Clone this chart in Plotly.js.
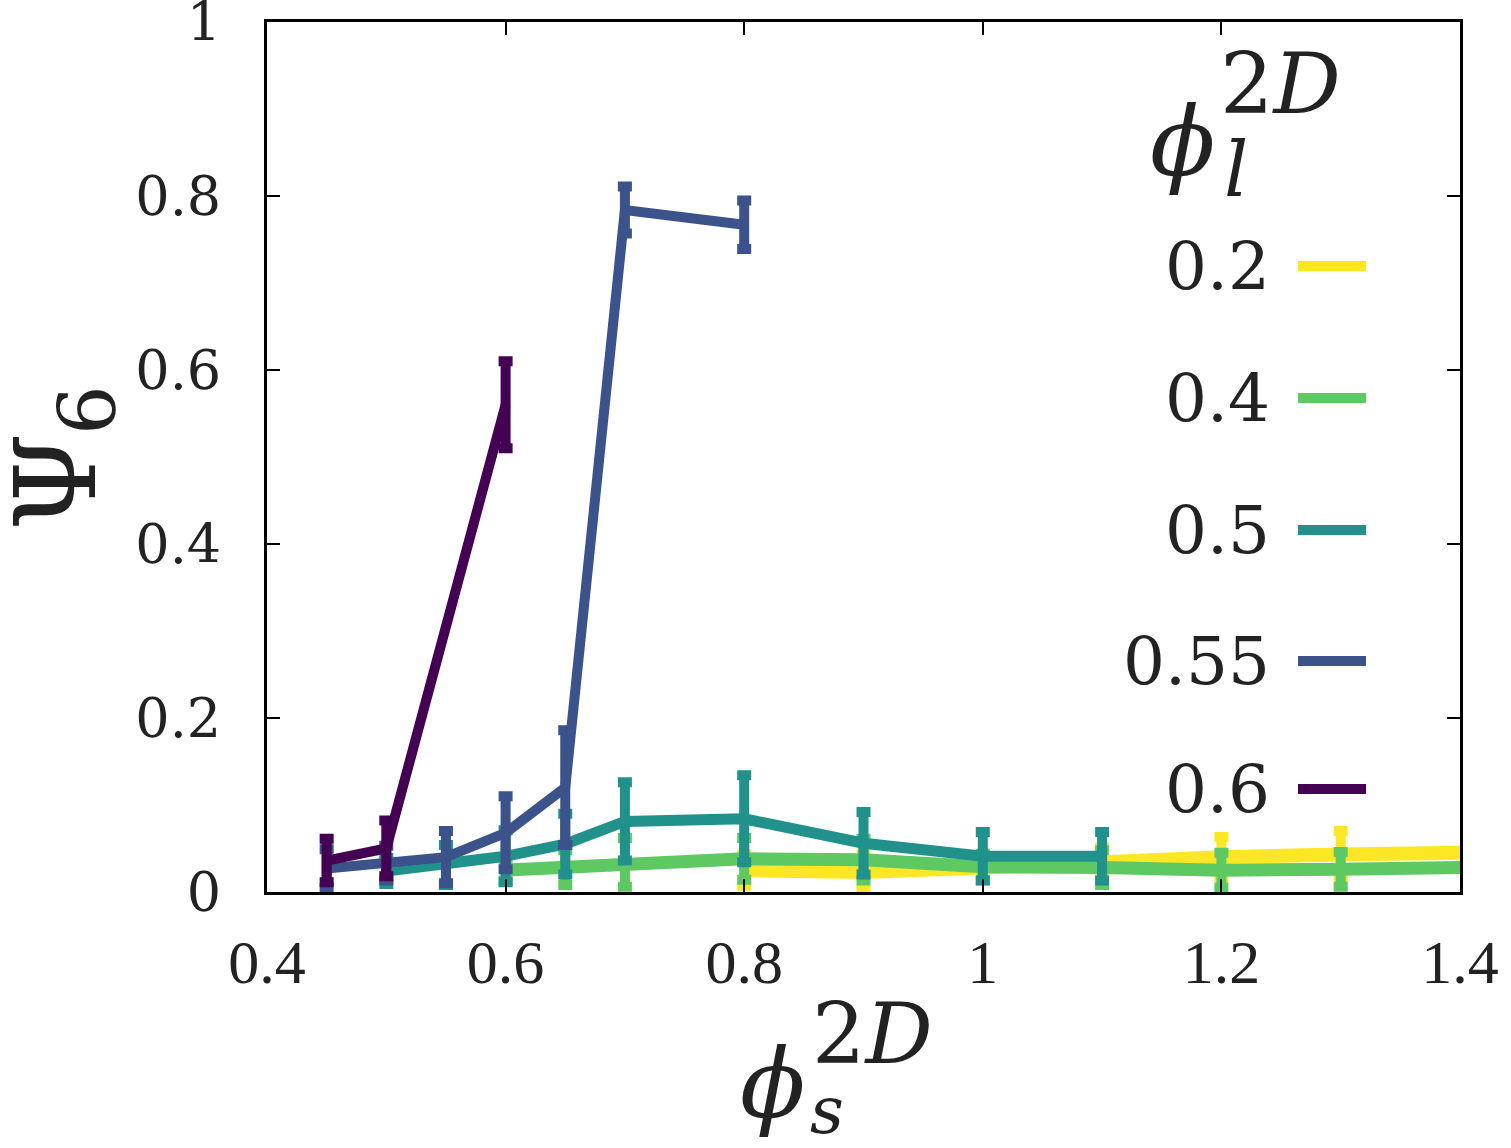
<!DOCTYPE html>
<html>
<head>
<meta charset="utf-8">
<script src="https://cdn.plot.ly/plotly-3.0.1.min.js"></script>
<style>html,body{margin:0;padding:0;background:#fff;}#plot{width:1511px;height:1148px;}</style>
</head>
<body>
<div id="plot"></div>
<script>
// ---- data ----
const seriesLabels = ['0.2', '0.4', '0.5', '0.55', '0.6'];
const seriesColors = ['#fde725', '#5ec962', '#21918c', '#3b528b', '#440154'];
const seriesWidths = [14, 13, 11, 10, 10];

const x02 = [0.8, 0.9, 1.0, 1.1, 1.2, 1.3, 1.5];
const y02 = [0.025, 0.023, 0.028, 0.036, 0.040, 0.043, 0.047];
const e02 = [0.018, 0.020, 0.015, 0.015, 0.023, 0.027, 0.020];

const x04 = [0.6, 0.65, 0.7, 0.8, 0.9, 1.0, 1.1, 1.2, 1.3, 1.5];
const y04 = [0.025, 0.028, 0.034, 0.038, 0.037, 0.029, 0.028, 0.025, 0.026, 0.030];
const e04 = [0.012, 0.020, 0.028, 0.024, 0.024, 0.015, 0.020, 0.020, 0.020, 0.020];

const x05 = [0.5, 0.55, 0.6, 0.65, 0.7, 0.8, 0.9, 1.0, 1.1];
const y05 = [0.024, 0.031, 0.041, 0.055, 0.081, 0.084, 0.056, 0.041, 0.041];
const e05 = [0.015, 0.023, 0.030, 0.035, 0.045, 0.050, 0.036, 0.028, 0.028];

const x055 = [0.45, 0.5, 0.55, 0.6, 0.65, 0.7, 0.8];
const y055 = [0.027, 0.033, 0.040, 0.068, 0.120, 0.784, 0.767];
const e055 = [0.022, 0.020, 0.030, 0.042, 0.066, 0.027, 0.028];

const x06 = [0.45, 0.5, 0.6];
const y06 = [0.036, 0.050, 0.560];
const e06 = [0.025, 0.032, 0.050];

const xTicks = [0.4, 0.6, 0.8, 1.0, 1.2, 1.4];
const xTickText = ['0.4', '0.6', '0.8', '1', '1.2', '1.4'];
const yTicks = [0, 0.2, 0.4, 0.6, 0.8, 1];
const yTickText = ['0', '0.2', '0.4', '0.6', '0.8', '1'];

// ---- build ----
const xs = [x02, x04, x05, x055, x06];
const ys = [y02, y04, y05, y055, y06];
const es = [e02, e04, e05, e055, e06];

const traces = seriesLabels.map((lab, i) => ({
  type: 'scatter',
  mode: 'lines',
  name: lab,
  x: xs[i],
  y: ys[i],
  line: {color: seriesColors[i], width: seriesWidths[i]},
  error_y: {type: 'data', array: es[i], visible: true, color: seriesColors[i], thickness: 10, width: 7},
  showlegend: false
}));

// plot area in px
const L = 267, R = 1460, T = 22, B = 892;
const W = 1511, H = 1148;
const px2x = p => (p - L) / (R - L);
const py2y = p => (B - p) / (B - T);

const annotations = [];
const shapes = [];
const txt = '#222';

// legend (labels left of line samples)
const legY = [266, 398, 530, 661, 789];
seriesLabels.forEach((lab, i) => {
  annotations.push({
    xref: 'paper', yref: 'paper', x: px2x(1272), y: py2y(legY[i]),
    xanchor: 'right', yanchor: 'middle', showarrow: false,
    text: lab, font: {family: 'DejaVu Serif', size: 66, color: txt}
  });
  shapes.push({
    type: 'line', xref: 'paper', yref: 'paper',
    x0: px2x(1298), x1: px2x(1366), y0: py2y(legY[i]), y1: py2y(legY[i]),
    line: {color: seriesColors[i], width: 10}
  });
});

// legend title  phi_l^{2D}
annotations.push({xref: 'paper', yref: 'paper', x: px2x(1182), y: py2y(142), xanchor: 'center', yanchor: 'middle',
  showarrow: false, text: '<i>ϕ</i>', font: {family: 'DejaVu Serif', size: 96, color: txt}});
annotations.push({xref: 'paper', yref: 'paper', x: px2x(1218), y: py2y(84), xanchor: 'left', yanchor: 'middle',
  showarrow: false, text: '2<i>D</i>', font: {family: 'DejaVu Serif', size: 84, color: txt}});
annotations.push({xref: 'paper', yref: 'paper', x: px2x(1222), y: py2y(170), xanchor: 'left', yanchor: 'middle',
  showarrow: false, text: '<i>l</i>', font: {family: 'DejaVu Serif', size: 76, color: txt}});

// x title  phi_s^{2D}
annotations.push({xref: 'paper', yref: 'paper', x: px2x(772), y: py2y(1084), xanchor: 'center', yanchor: 'middle',
  showarrow: false, text: '<i>ϕ</i>', font: {family: 'DejaVu Serif', size: 96, color: txt}});
annotations.push({xref: 'paper', yref: 'paper', x: px2x(810), y: py2y(1034), xanchor: 'left', yanchor: 'middle',
  showarrow: false, text: '2<i>D</i>', font: {family: 'DejaVu Serif', size: 84, color: txt}});
annotations.push({xref: 'paper', yref: 'paper', x: px2x(808), y: py2y(1110), xanchor: 'left', yanchor: 'middle',
  showarrow: false, text: '<i>s</i>', font: {family: 'DejaVu Serif', size: 66, color: txt}});

// y title  Psi_6
annotations.push({xref: 'paper', yref: 'paper', x: px2x(56), y: py2y(482), xanchor: 'center', yanchor: 'middle',
  showarrow: false, textangle: -90, text: 'Ψ', font: {family: 'DejaVu Serif', size: 112, color: txt}});
annotations.push({xref: 'paper', yref: 'paper', x: px2x(88), y: py2y(410), xanchor: 'center', yanchor: 'middle',
  showarrow: false, textangle: -90, text: '6', font: {family: 'DejaVu Serif', size: 78, color: txt}});

const layout = {
  width: W, height: H,
  margin: {l: L, r: W - R, t: T, b: H - B, pad: 0},
  paper_bgcolor: '#fff', plot_bgcolor: '#fff',
  showlegend: false,
  xaxis: {
    range: [0.4, 1.4], tickvals: xTicks, ticktext: xTickText,
    ticks: 'inside', ticklen: 13, tickwidth: 2, tickcolor: '#000',
    showline: true, linecolor: '#000', linewidth: 3, mirror: 'ticks',
    showgrid: false, zeroline: false,
    tickfont: {family: 'Liberation Serif', size: 62, color: txt},
    ticklabelstandoff: 14, ticklabeloverflow: 'allow'
  },
  yaxis: {
    range: [-0.0001, 1.0001], tickvals: yTicks, ticktext: yTickText,
    ticks: 'inside', ticklen: 13, tickwidth: 2, tickcolor: '#000',
    showline: true, linecolor: '#000', linewidth: 3, mirror: 'ticks',
    showgrid: false, zeroline: false,
    tickfont: {family: 'DejaVu Serif', size: 54, color: txt},
    ticklabelstandoff: 32, ticklabeloverflow: 'allow'
  },
  annotations: annotations,
  shapes: shapes
};

Plotly.newPlot('plot', traces, layout, {staticPlot: true});
</script>
</body>
</html>
